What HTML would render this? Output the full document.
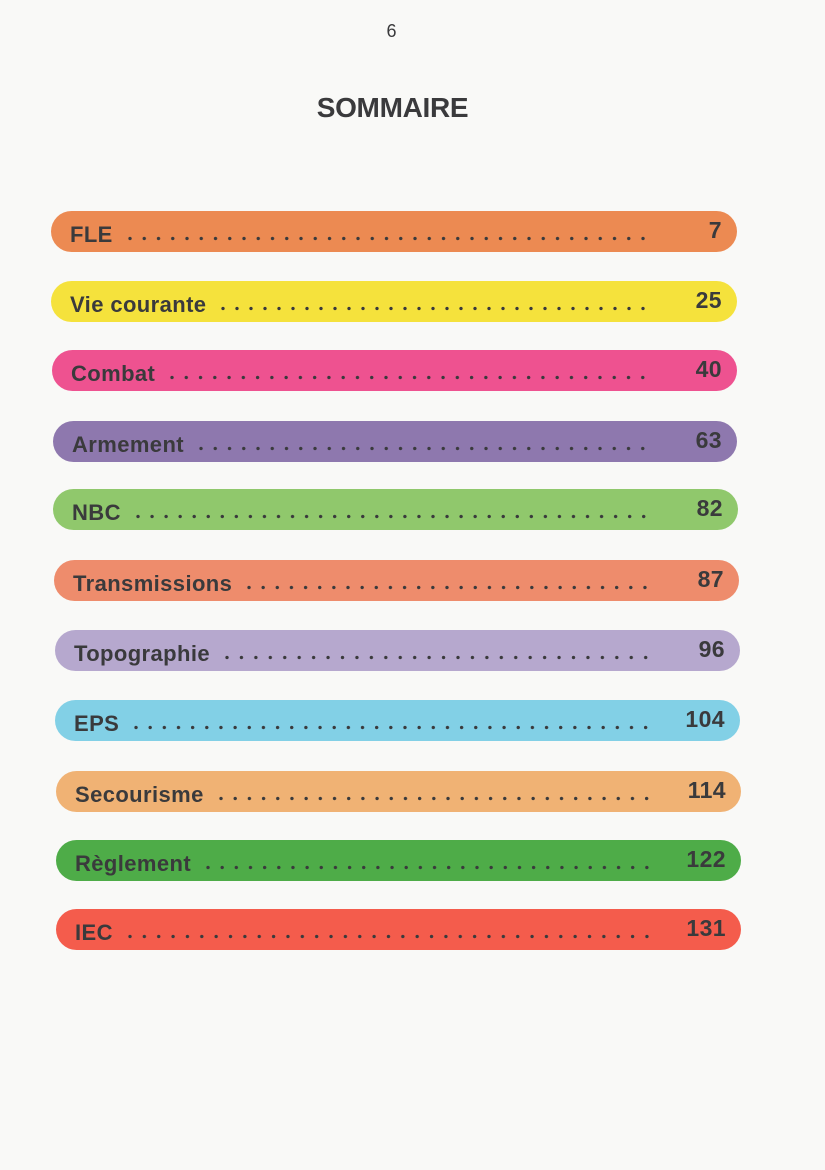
<!DOCTYPE html>
<html><head><meta charset="utf-8"><style>
html,body{margin:0;padding:0}
body{width:825px;height:1170px;background:#f9f9f7;position:relative;overflow:hidden;font-family:"Liberation Sans",sans-serif;color:#3a3a3c}
.pn{position:absolute;left:0;width:783px;text-align:center;top:21px;font-size:18px}
.title{position:absolute;left:0;width:785px;text-align:center;top:92px;font-size:28px;font-weight:bold;letter-spacing:-0.3px}
.bar{position:absolute;height:41px;border-radius:21px;display:flex;align-items:center;box-sizing:border-box;padding:0 15px 0 19px;font-weight:bold;font-size:22px;letter-spacing:0.4px}
.bar .lbl{white-space:nowrap;padding-top:6px}
.bar .dots{flex:1;height:5px;margin:14px 72px 0 10px;background-image:radial-gradient(circle,#3a3a3c 1.5px,transparent 1.9px);background-size:14px 5px;background-repeat:space no-repeat}
.bar .num{position:absolute;right:15px;top:6px;font-size:23px}
</style></head><body>
<div class="pn">6</div>
<div class="title">SOMMAIRE</div>
<div id="toc"></div>
<script>
var labels=["FLE","Vie courante","Combat","Armement","NBC","Transmissions","Topographie","EPS","Secourisme","Règlement","IEC"];
var pages=["7","25","40","63","82","87","96","104","114","122","131"];
var colors=["#ec8a52","#f5e23c","#ee5290","#8e78ae","#90c86c","#ee8c6c","#b6a8ce","#82d0e6","#f0b274","#4eac48","#f45c4c"];
var tops=[211,281,350,421,489,560,630,700,771,840,909];
var lefts=[51,51,52,53,53,54,55,55,56,56,56];
var rights=[737,737,737,737,738,739,740,740,741,741,741];
var toc=document.getElementById('toc');
for(var i=0;i<labels.length;i++){
 var b=document.createElement('div');
 b.className='bar';
 
 
 b.style.top=tops[i]+'px';b.style.left=lefts[i]+'px';b.style.width=(rights[i]-lefts[i])+'px';b.style.background=colors[i];
 var l=document.createElement('span');l.className='lbl';l.textContent=labels[i];
 
 
 var d=document.createElement('span');d.className='dots';
 
 
 var n=document.createElement('span');n.className='num';n.textContent=pages[i];
 
 
 b.appendChild(l);b.appendChild(d);b.appendChild(n);toc.appendChild(b);
}
</script>
</body></html>
